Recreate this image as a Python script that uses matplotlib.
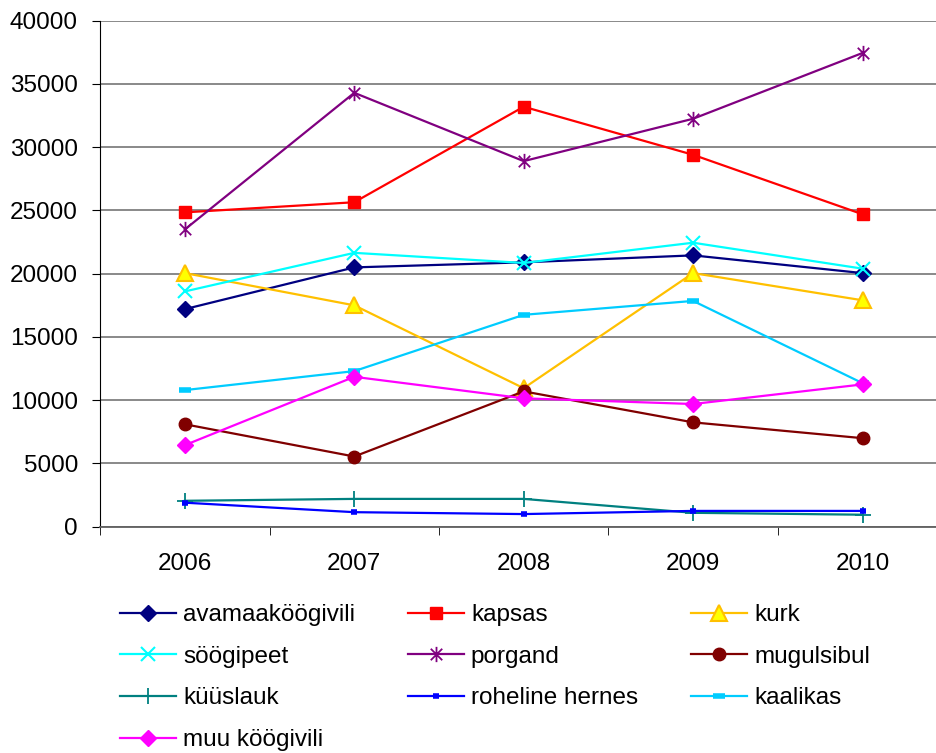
import numpy as np
import matplotlib
matplotlib.use("Agg")
import matplotlib.pyplot as plt
from matplotlib.path import Path

plt.rcParams['font.family'] = ['Liberation Sans', 'DejaVu Sans']

years = ['2006', '2007', '2008', '2009', '2010']

avamaakoogivili = [17200, 20500, 20900, 21450, 20050]
kapsas = [24850, 25650, 33200, 29400, 24700]
kurk = [20050, 17500, 10950, 20050, 17900]
soogipeet = [18600, 21650, 20850, 22450, 20400]
porgand = [23500, 34300, 28900, 32250, 37450]
mugulsibul = [8100, 5550, 10700, 8250, 7000]
kuuslauk = [2050, 2200, 2200, 1100, 950]
roheline_hernes = [1900, 1150, 1000, 1250, 1250]
kaalikas = [10800, 12300, 16750, 17850, 11350]
muu_koogivili = [6450, 11850, 10150, 9700, 11250]

# tärn: X + püstjoon
star = Path([(0, -1), (0, 1), (-0.75, -0.75), (0.75, 0.75), (-0.75, 0.75), (0.75, -0.75)],
            [Path.MOVETO, Path.LINETO] * 3)

series = [
    ('avamaaköögivili', avamaakoogivili, dict(color='#000080', marker='D', ms=8, mfc='#000080', mec='#000080')),
    ('kapsas', kapsas, dict(color='#FF0000', marker='s', ms=9, mfc='#FF0000', mec='#FF0000')),
    ('kurk', kurk, dict(color='#FFC000', marker='^', ms=11, mfc='#FFFF00', mec='#FFC000', mew=1.5)),
    ('söögipeet', soogipeet, dict(color='#00FFFF', marker='x', ms=10, mec='#00FFFF', mew=1.5)),
    ('porgand', porgand, dict(color='#800080', marker=star, ms=11, mec='#800080', mew=1.3)),
    ('mugulsibul', mugulsibul, dict(color='#800000', marker='o', ms=9, mfc='#800000', mec='#800000')),
    ('küüslauk', kuuslauk, dict(color='#008080', marker='+', ms=12, mec='#008080', mew=1.3)),
    ('roheline hernes', roheline_hernes, dict(color='#0000FF', marker='_', ms=5, mec='#0000FF', mew=4)),
    ('kaalikas', kaalikas, dict(color='#00CCFF', marker='_', ms=9, mec='#00CCFF', mew=4)),
    ('muu köögivili', muu_koogivili, dict(color='#FF00FF', marker='D', ms=8, mfc='#FF00FF', mec='#FF00FF')),
]

fig = plt.figure(figsize=(9.36, 7.53), dpi=100)
ax = fig.add_axes([0.107, 0.3005, 0.905, 0.672])

x = np.arange(len(years))
lines = []
for name, vals, st in series:
    ln, = ax.plot(x, vals, label=name, lw=1.6, **st)
    lines.append(ln)

ax.set_xlim(-0.5, len(years) - 0.5)
ax.set_ylim(0, 40000)
ax.set_yticks(np.arange(0, 40001, 5000))
ax.yaxis.grid(True, color='#808080', lw=1.3)
ax.set_axisbelow(True)
for s in ['top', 'right']:
    ax.spines[s].set_visible(False)
ax.spines['left'].set_color('black')
ax.spines['bottom'].set_color('#606060')
ax.spines['bottom'].set_linewidth(1.3)

ax.set_xticks(x)
ax.set_xticklabels(years)
ax.set_xticks(np.arange(-0.5, len(years), 1), minor=True)
ax.tick_params(axis='x', which='major', length=0, pad=19, labelsize=17.5)
ax.tick_params(axis='x', which='minor', length=6, direction='out')
ax.tick_params(axis='y', length=6, direction='out', pad=10, labelsize=17.5)

# legend ridade kaupa: 3 veergu
order = [0, 3, 6, 9, 1, 4, 7, 2, 5, 8]
fig.legend([lines[i] for i in order], [series[i][0] for i in order],
           loc='upper left', bbox_to_anchor=(0.128, 1 - 604 / 753), ncol=3, frameon=False,
           fontsize=17.5, handlelength=2.3, handletextpad=0.3, columnspacing=2.17,
           labelspacing=0.81, borderpad=0, borderaxespad=0)

fig.savefig('out.png', dpi=100)
